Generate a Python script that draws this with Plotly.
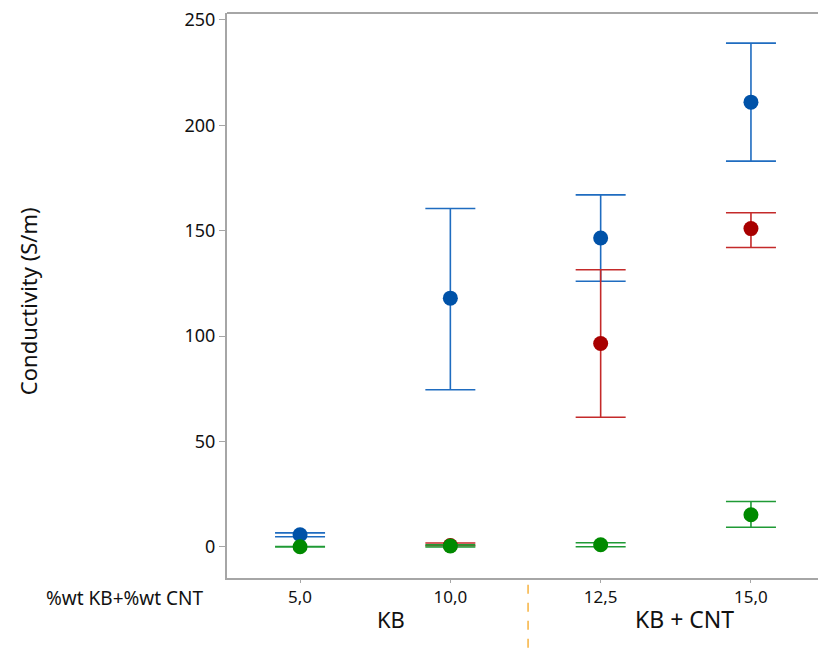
import plotly.graph_objects as go

# Composition groups (%wt KB + %wt CNT)
categories = ["5,0", "10,0", "12,5", "15,0"]
x_idx = [0, 1, 2, 3]

# Blue series: mean conductivity and error limits (S/m)
blue_mean = [5.7, 118.0, 146.5, 211.0]
blue_hi = [6.6, 160.5, 167.0, 239.0]
blue_lo = [4.8, 74.5, 126.0, 183.0]

# Red series
red_x = [1, 2, 3]
red_mean = [0.6, 96.5, 151.0]
red_hi = [1.8, 131.5, 158.5]
red_lo = [0.5, 61.5, 142.0]

# Green series
green_mean = [0.0, 0.4, 1.0, 15.2]
green_hi = [0.1, 0.9, 1.9, 21.5]
green_lo = [-0.1, -0.1, 0.0, 9.3]

y_ticks = [0, 50, 100, 150, 200, 250]
FONT = "Noto Sans"


def add_series(fig, xs, mean, hi, lo, mcol, ecol, name):
    fig.add_trace(go.Scatter(
        x=xs, y=mean, mode="markers", name=name, showlegend=False,
        marker=dict(size=15, color=mcol),
        error_y=dict(type="data", symmetric=False,
                     array=[h - m for h, m in zip(hi, mean)],
                     arrayminus=[m - l for m, l in zip(mean, lo)],
                     color=ecol, thickness=1.6, width=25),
    ))


fig = go.Figure()
add_series(fig, x_idx, blue_mean, blue_hi, blue_lo, "#0052a8", "#1f6cc0", "blue")
add_series(fig, red_x, red_mean, red_hi, red_lo, "#a80000", "#c42a2a", "red")
add_series(fig, x_idx, green_mean, green_hi, green_lo, "#008a00", "#1f9a35", "green")

fig.update_layout(
    width=818, height=650,
    margin=dict(l=227, r=0, t=13, b=72),
    plot_bgcolor="white", paper_bgcolor="white",
    font=dict(family=FONT, color="#111111", size=17),
    xaxis=dict(
        range=[-0.486, 3.446], tickvals=x_idx, ticktext=categories,
        showgrid=False, zeroline=False, showline=True, linecolor="#a6a6a6",
        linewidth=2, ticks="outside", ticklen=3, tickcolor="#a6a6a6",
        tickfont=dict(size=17, family=FONT),
    ),
    yaxis=dict(
        range=[-14.8, 253.3], tickvals=y_ticks,
        showgrid=False, zeroline=False, showline=True, linecolor="#a6a6a6",
        linewidth=2, ticks="outside", ticklen=6, tickcolor="#a6a6a6",
        tickfont=dict(size=18, family=FONT),
    ),
    shapes=[
        # top border of the frame
        dict(type="line", xref="paper", yref="paper", x0=0, x1=1, y0=1, y1=1,
             line=dict(color="#a6a6a6", width=2)),
        # dashed separator between KB and KB + CNT groups
        dict(type="line", xref="x", yref="paper", x0=1.517, x1=1.517,
             y0=-0.012, y1=-0.13, line=dict(color="#f5a623", width=1.3, dash="dash")),
    ],
    annotations=[
        dict(text="Conductivity (S/m)", xref="paper", yref="paper", x=-0.3367, y=0.49,
             xanchor="center", yanchor="middle", textangle=-90, showarrow=False,
             font=dict(size=22, family=FONT)),
        dict(text="%wt KB+%wt CNT", xref="paper", yref="paper", x=-0.037, y=-0.035,
             xanchor="right", yanchor="middle", showarrow=False,
             font=dict(size=19, family=FONT)),
        dict(text="KB", xref="x", yref="paper", x=0.605, y=-0.073,
             xanchor="center", yanchor="middle", showarrow=False,
             font=dict(size=22, family=FONT)),
        dict(text="KB + CNT", xref="x", yref="paper", x=2.56, y=-0.073,
             xanchor="center", yanchor="middle", showarrow=False,
             font=dict(size=23, family=FONT)),
    ],
)

fig.write_html("out.html")
